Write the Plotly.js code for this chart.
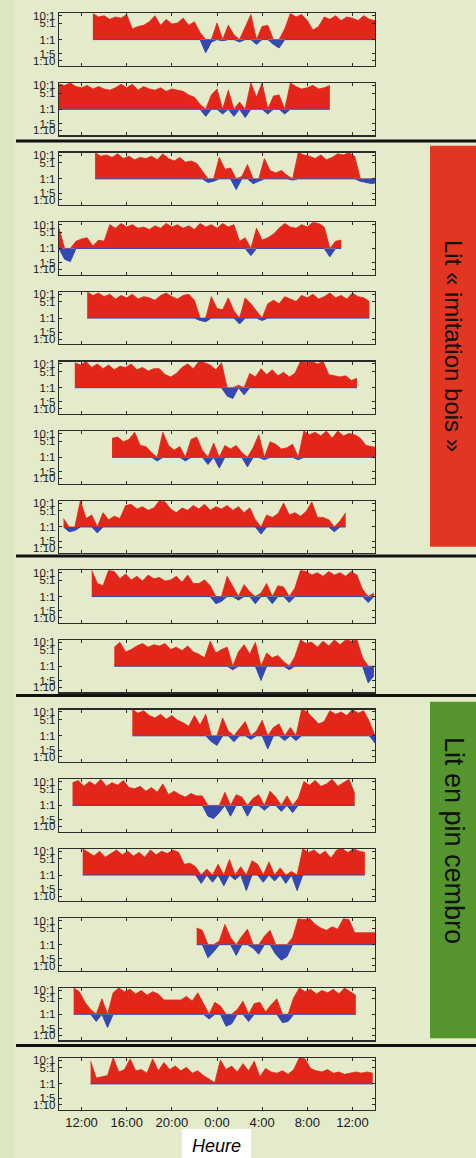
<!DOCTYPE html>
<html><head><meta charset="utf-8">
<script src="https://cdn.plot.ly/plotly-3.0.1.min.js"></script>
<style>html,body{margin:0;padding:0;background:#e3ebca;}#chart{width:476px;height:1158px;}</style>
</head><body><div id="chart"></div>
<script>
// Time axis (hours since midnight of day 1; 24 = 0:00)
const timeTickVals = [12, 16, 20, 24, 28, 32, 36];
const timeTickText = ["12:00", "16:00", "20:00", "0:00", "4:00", "8:00", "12:00"];
// Ratio axis (log10 of ratio, as placed on the original)
const ratioTickVals = [1.0, 0.68, 0, -0.6, -0.88];
const ratioTickText = ["10:1", "5:1", "1:1", "1:5", "1:10"];
const groupLabels = ["Lit « imitation bois »", "Lit en pin cembro"];
const axisTitle = "Heure";
const stepHours = 0.5;

// start hour of each recording (panel order top to bottom)
const startHours = [13.0, 10.0, 13.2, 10.0, 12.5, 11.4, 14.7, 10.4, 12.9, 14.9, 16.5, 11.2, 12.1, 22.2, 11.3, 12.8];

// log10 ratio values, one every 30 min
const rec01 = [1.1,0.95,1.0,0.85,0.95,0.9,1.05,0.45,0.55,0.6,0.75,1.0,0.6,0.85,0.65,0.7,0.9,0.6,0.75,0.3,-0.55,-0.1,0.7,-0.05,0.6,0.2,-0.1,0.5,1.05,-0.2,0.55,0.6,-0.2,-0.35,0.45,1.1,0.95,1.05,0.8,0.4,0.55,0.95,0.85,1.0,0.8,0.95,0.9,0.8,1.0,0.85,0.8];
const rec02 = [1.05,1.0,1.1,0.95,0.9,1.0,0.85,0.95,0.85,0.8,0.9,1.05,0.9,1.05,0.8,0.95,0.85,0.8,0.9,0.75,0.85,0.8,0.75,0.6,0.5,0.2,-0.3,0.6,0.85,-0.2,0.8,-0.3,0.3,-0.35,1.1,0.5,1.1,-0.2,0.55,0.6,-0.2,1.1,0.95,0.85,0.9,1.0,0.85,0.9,1.0];
const rec03 = [1.1,0.95,1.0,0.9,1.05,0.85,0.95,0.8,0.9,0.85,0.95,0.8,1.05,0.85,0.75,0.9,0.7,0.75,0.65,0.35,-0.15,-0.1,0.9,0.4,0.45,-0.45,0.1,0.6,-0.2,-0.1,0.85,0.35,0.25,0.35,0.15,-0.05,1.1,1.0,0.95,0.85,1.0,0.8,0.9,1.05,1.0,1.1,0.95,-0.1,-0.15,-0.2,-0.15];
const rec04 = [0.85,-0.45,-0.55,0.3,0.4,0.45,0.1,0.35,0.3,1.0,0.85,1.05,0.9,1.0,0.85,0.9,0.8,0.95,0.85,1.05,0.9,1.0,0.85,0.95,0.8,1.05,0.9,1.0,0.85,1.05,0.9,1.0,0.3,0.45,-0.3,0.85,0.35,0.45,0.6,0.85,1.05,0.9,0.85,1.0,0.9,1.1,1.05,0.9,-0.35,0.3,0.35];
const rec05 = [1.1,0.95,1.05,0.9,1.0,0.8,0.95,0.85,1.0,0.8,0.9,0.85,0.75,0.95,1.05,0.9,0.8,0.95,1.0,0.75,-0.1,-0.15,0.9,0.4,0.35,0.85,0.3,-0.25,0.85,0.6,0.3,-0.1,0.6,0.75,0.6,0.9,0.8,0.7,0.95,0.85,1.0,0.8,0.9,1.05,0.85,0.95,0.8,1.05,0.9,0.85,0.7];
const rec06 = [1.05,0.95,1.1,0.85,1.0,0.8,0.95,0.75,0.9,0.85,1.0,0.75,0.85,0.7,0.8,0.8,0.55,0.45,0.6,0.85,1.0,0.8,1.1,1.05,0.95,0.75,1.05,-0.35,-0.45,0.1,-0.3,0.6,0.45,0.8,0.55,0.75,0.5,0.65,0.45,0.6,1.1,1.05,1.1,1.0,1.1,0.55,0.5,0.45,0.5,0.3,0.4];
const rec07 = [0.8,0.85,0.65,0.75,1.05,0.5,0.45,0.2,-0.15,1.05,0.5,0.3,0.45,-0.15,0.75,0.85,0.3,-0.3,0.6,-0.45,0.5,0.35,0.5,0.2,-0.4,0.4,0.95,-0.1,0.65,0.55,0.35,0.4,0.55,-0.1,1.1,0.95,1.05,0.9,1.1,0.8,1.1,0.9,1.0,0.95,0.8,0.5,0.45,0.4];
const rec08 = [0.35,-0.2,-0.15,1.1,0.35,0.5,-0.25,0.6,0.3,0.45,0.35,0.9,0.95,0.75,0.85,0.7,0.8,1.1,1.05,0.75,0.6,0.8,0.7,0.9,0.75,0.95,0.7,0.85,0.75,0.9,0.7,0.85,0.6,0.8,0.3,-0.3,0.5,0.4,0.55,1.0,0.5,0.6,0.45,0.65,1.05,0.4,0.4,0.3,-0.2,0.25,0.6];
const rec09 = [1.1,0.55,0.45,1.1,1.05,0.75,0.95,0.7,0.85,0.65,0.9,0.75,0.8,0.65,0.7,0.85,0.6,0.9,0.55,0.55,0.7,0.45,-0.3,-0.2,0.85,0.4,-0.15,0.5,0.2,-0.3,0.15,0.55,-0.3,0.45,0.4,-0.25,0.35,1.1,1.05,0.9,1.0,0.85,1.05,0.9,1.0,0.85,1.05,0.9,0.3,-0.25,0.15];
const rec10 = [0.8,1.0,0.6,0.7,0.85,0.95,0.8,0.9,0.85,0.95,0.7,0.8,0.65,0.85,0.6,0.5,0.35,1.05,0.55,0.7,0.8,-0.15,0.6,0.9,0.5,1.0,-0.6,0.55,0.35,0.45,0.2,-0.15,0.4,1.1,0.95,1.0,0.8,1.05,0.85,1.1,0.9,1.1,1.05,1.1,0.35,-0.7,-0.4];
const rec11 = [1.1,0.95,1.05,0.85,0.75,0.9,0.7,0.85,0.65,0.55,0.4,0.85,0.45,0.9,-0.25,-0.4,0.75,0.2,-0.25,0.3,0.6,-0.15,0.2,0.65,-0.55,0.35,0.5,-0.2,0.35,-0.2,1.1,1.0,0.75,0.5,0.6,1.05,0.9,1.0,0.85,1.1,0.95,1.05,0.6,-0.3];
const rec12 = [0.95,1.05,0.8,1.0,0.85,1.1,0.8,0.95,0.85,1.05,0.75,0.7,0.8,0.6,0.75,0.55,0.9,0.45,0.6,0.45,0.35,0.5,0.4,0.4,-0.45,-0.55,-0.3,0.55,-0.45,0.45,0.35,-0.45,0.3,0.45,-0.2,0.6,0.35,-0.25,0.4,-0.3,0.3,1.0,0.85,1.05,0.8,0.9,1.1,0.8,0.95,1.1,0.5];
const rec13 = [1.1,0.95,0.8,1.0,0.75,0.9,1.05,0.85,1.0,0.8,0.95,0.75,1.05,0.85,1.0,0.9,1.05,0.95,0.45,0.5,0.35,-0.35,0.25,-0.3,0.45,-0.45,0.65,-0.2,0.35,-0.65,0.6,0.45,-0.3,0.55,-0.25,0.3,-0.35,0.15,-0.65,1.1,0.95,1.05,0.85,1.0,0.7,1.05,1.1,0.95,1.1,1.0,0.95];
const rec14 = [0.7,0.6,-0.55,-0.3,0.15,0.85,0.3,-0.45,0.35,0.65,-0.15,-0.4,0.35,0.6,-0.4,-0.65,-0.5,0.3,1.1,1.05,1.1,0.85,0.7,0.6,0.75,0.65,1.1,1.05,0.5,0.5,0.5,0.5,0.5];
const rec15 = [1.1,0.95,0.5,0.2,-0.3,0.65,-0.55,0.9,1.1,0.95,1.05,0.85,1.0,0.8,0.95,0.85,0.6,0.6,0.6,0.6,0.75,0.55,0.9,0.45,-0.2,0.5,0.35,-0.5,-0.4,0.2,0.55,-0.3,0.45,0.5,0.1,0.4,0.65,-0.35,-0.3,0.7,1.1,0.95,1.05,0.85,1.0,0.9,1.05,0.85,1.1,0.95,0.8];
const rec16 = [0.95,0.25,0.3,0.35,1.1,0.5,0.6,1.05,0.55,0.6,0.45,1.05,0.55,0.9,0.6,0.75,0.55,0.7,0.45,0.55,0.35,0.2,0.05,1.0,0.6,0.75,0.5,0.85,0.55,0.95,0.3,0.65,0.5,0.45,0.55,0.4,0.6,1.1,1.05,0.65,0.55,0.5,0.6,0.45,0.5,0.4,0.45,0.5,0.45,0.5,0.45];

const records = [rec01,rec02,rec03,rec04,rec05,rec06,rec07,rec08,rec09,rec10,rec11,rec12,rec13,rec14,rec15,rec16];

const W = 476, H = 1158;
const BG = '#e3ebca';
const RED = 'rgb(226,38,26)';
const BLUE = 'rgb(52,72,178)';
const FRAME = '#2b2b2b';
const px = v => v / W;
const py = v => 1 - v / H;

const traces = [];
const layout = {
  width: W, height: H,
  margin: {l: 0, r: 0, t: 0, b: 0},
  paper_bgcolor: BG, plot_bgcolor: BG,
  showlegend: false,
  font: {family: 'Liberation Sans, Arial, sans-serif', color: '#1a1a1a'},
  shapes: [], annotations: []
};

const panelTop0 = 13.4, panelPitch = 69.62, panelH = 52.4;
records.forEach((vals, i) => {
  const n = i + 1;
  const xs = vals.map((_, j) => startHours[i] + stepHours * j);
  const xa = n === 1 ? 'x' : 'x' + n, ya = n === 1 ? 'y' : 'y' + n;
  traces.push({x: xs, y: vals.map(v => Math.max(v, 0)), xaxis: xa, yaxis: ya, type: 'scatter', mode: 'lines',
    fill: 'tozeroy', fillcolor: RED, line: {color: RED, width: 0.8}, hoverinfo: 'skip'});
  traces.push({x: xs, y: vals.map(v => Math.min(v, 0)), xaxis: xa, yaxis: ya, type: 'scatter', mode: 'lines',
    fill: 'tozeroy', fillcolor: BLUE, line: {color: BLUE, width: 1}, hoverinfo: 'skip'});
  const top = panelTop0 + panelPitch * i;
  const last = i === records.length - 1;
  layout[n === 1 ? 'xaxis' : 'xaxis' + n] = {
    domain: [px(59), px(375)], anchor: ya, range: [10, 38],
    tickvals: timeTickVals, ticktext: timeTickText, ticks: 'inside', ticklen: 3, tickcolor: FRAME,
    showline: true, linecolor: FRAME, linewidth: 1.2, mirror: 'ticks',
    showgrid: false, zeroline: false, showticklabels: last, tickfont: {size: 13, color: '#1a1a1a'}, fixedrange: true
  };
  layout[n === 1 ? 'yaxis' : 'yaxis' + n] = {
    domain: [py(top + panelH), py(top)], anchor: xa, range: [-1.1, 1.1],
    tickvals: ratioTickVals, ticktext: ratioTickText, ticks: 'inside', ticklen: 3, tickcolor: FRAME,
    showline: true, linecolor: FRAME, linewidth: 1.2, mirror: 'ticks',
    showgrid: false, zeroline: false, tickfont: {size: 11.5, color: '#1a1a1a'}, fixedrange: true
  };
});

// left textured strip
layout.shapes.push({type: 'rect', xref: 'paper', yref: 'paper', x0: 0, x1: px(15), y0: 0, y1: 1, fillcolor: '#dde8c0', line: {width: 0}, layer: 'below'});
// group separators
[141, 556, 695.5, 1045.5].forEach(y => layout.shapes.push({type: 'line', xref: 'paper', yref: 'paper', x0: px(16), x1: 1, y0: py(y), y1: py(y), line: {color: '#111', width: 3}}));
// group boxes
layout.shapes.push({type: 'rect', xref: 'paper', yref: 'paper', x0: px(430), x1: 1.01, y0: py(546.7), y1: py(145.7), fillcolor: 'rgb(226,54,34)', line: {width: 0}});
layout.shapes.push({type: 'rect', xref: 'paper', yref: 'paper', x0: px(430), x1: 1.01, y0: py(1038.3), y1: py(701.7), fillcolor: 'rgb(84,149,45)', line: {width: 0}});
// axis title box
layout.shapes.push({type: 'rect', xref: 'paper', yref: 'paper', x0: px(182), x1: px(251), y0: 0, y1: py(1129), fillcolor: '#ffffff', line: {width: 0}});

layout.annotations.push({xref: 'paper', yref: 'paper', x: px(454), y: py(346), text: groupLabels[0], textangle: 90, showarrow: false,
  font: {size: 24, color: '#111', family: 'Liberation Sans, Arial, sans-serif'}, xanchor: 'center', yanchor: 'middle'});
layout.annotations.push({xref: 'paper', yref: 'paper', x: px(454), y: py(840), text: groupLabels[1], textangle: 90, showarrow: false,
  font: {size: 27, color: '#111', family: 'Liberation Sans, Arial, sans-serif'}, xanchor: 'center', yanchor: 'middle'});
layout.annotations.push({xref: 'paper', yref: 'paper', x: px(216), y: py(1146), text: axisTitle, showarrow: false,
  font: {size: 18, color: '#000', family: 'Liberation Sans, Arial, sans-serif', style: 'italic'}, xanchor: 'center', yanchor: 'middle'});

Plotly.newPlot('chart', traces, layout, {staticPlot: true, displayModeBar: false});
</script>
</body></html>
